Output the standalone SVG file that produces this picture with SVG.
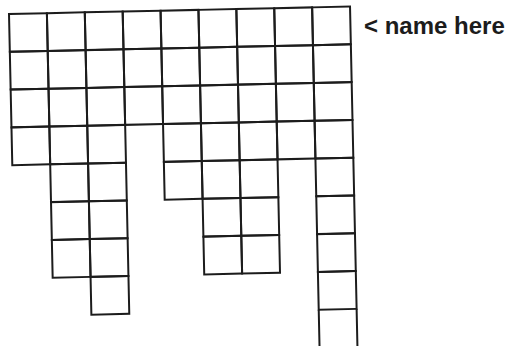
<svg xmlns="http://www.w3.org/2000/svg" width="509" height="346" viewBox="0 0 509 346">
<style>
.c{fill:none;stroke:#1c1c1c;stroke-width:2;stroke-linejoin:miter}
.lbl{font-family:"Liberation Sans",Arial,sans-serif;font-weight:bold;font-size:24px;fill:#1c1c1c}
</style>
<defs>
<rect id="cell" width="37.9" height="37.8" class="c"/>
</defs>
<rect width="509" height="346" fill="#ffffff"/>
<g id="grid" transform="translate(9,14) rotate(-1.25)">
<g id="col0">
<use href="#cell" x="0" y="0"/><use href="#cell" x="0" y="37.8"/><use href="#cell" x="0" y="75.6"/><use href="#cell" x="0" y="113.4"/>
</g>
<g id="col1">
<use href="#cell" x="37.9" y="0"/><use href="#cell" x="37.9" y="37.8"/><use href="#cell" x="37.9" y="75.6"/><use href="#cell" x="37.9" y="113.4"/><use href="#cell" x="37.9" y="151.2"/><use href="#cell" x="37.9" y="189"/><use href="#cell" x="37.9" y="226.8"/>
</g>
<g id="col2">
<use href="#cell" x="75.8" y="0"/><use href="#cell" x="75.8" y="37.8"/><use href="#cell" x="75.8" y="75.6"/><use href="#cell" x="75.8" y="113.4"/><use href="#cell" x="75.8" y="151.2"/><use href="#cell" x="75.8" y="189"/><use href="#cell" x="75.8" y="226.8"/><use href="#cell" x="75.8" y="264.6"/>
</g>
<g id="col3">
<use href="#cell" x="113.7" y="0"/><use href="#cell" x="113.7" y="37.8"/><use href="#cell" x="113.7" y="75.6"/>
</g>
<g id="col4">
<use href="#cell" x="151.6" y="0"/><use href="#cell" x="151.6" y="37.8"/><use href="#cell" x="151.6" y="75.6"/><use href="#cell" x="151.6" y="113.4"/><use href="#cell" x="151.6" y="151.2"/>
</g>
<g id="col5">
<use href="#cell" x="189.5" y="0"/><use href="#cell" x="189.5" y="37.8"/><use href="#cell" x="189.5" y="75.6"/><use href="#cell" x="189.5" y="113.4"/><use href="#cell" x="189.5" y="151.2"/><use href="#cell" x="189.5" y="189"/><use href="#cell" x="189.5" y="226.8"/>
</g>
<g id="col6">
<use href="#cell" x="227.4" y="0"/><use href="#cell" x="227.4" y="37.8"/><use href="#cell" x="227.4" y="75.6"/><use href="#cell" x="227.4" y="113.4"/><use href="#cell" x="227.4" y="151.2"/><use href="#cell" x="227.4" y="189"/><use href="#cell" x="227.4" y="226.8"/>
</g>
<g id="col7">
<use href="#cell" x="265.3" y="0"/><use href="#cell" x="265.3" y="37.8"/><use href="#cell" x="265.3" y="75.6"/><use href="#cell" x="265.3" y="113.4"/>
</g>
<g id="col8">
<use href="#cell" x="303.2" y="0"/><use href="#cell" x="303.2" y="37.8"/><use href="#cell" x="303.2" y="75.6"/><use href="#cell" x="303.2" y="113.4"/><use href="#cell" x="303.2" y="151.2"/><use href="#cell" x="303.2" y="189"/><use href="#cell" x="303.2" y="226.8"/><use href="#cell" x="303.2" y="264.6"/>
<path class="c" d="M303.2,302.4 V350 M341.1,302.4 V350"/>
</g>
</g>
<text id="label" class="lbl" x="364" y="34">&lt; name here</text>
</svg>
